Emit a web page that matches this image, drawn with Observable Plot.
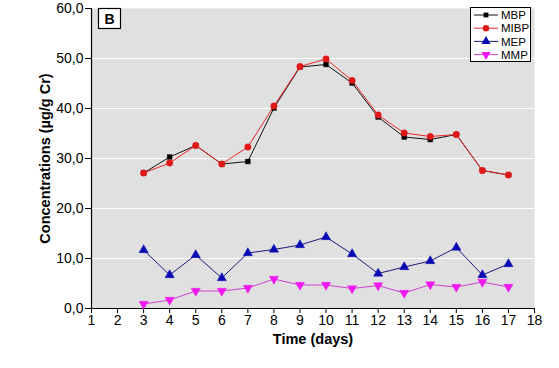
<!DOCTYPE html>
<html>
<head>
<meta charset="utf-8">
<script src="https://cdn.jsdelivr.net/npm/d3@7"></script>
<script src="https://cdn.jsdelivr.net/npm/@observablehq/plot@0.6"></script>
<style>
  body { margin: 0; background: #fff; }
  svg { font-family: "Liberation Sans", Arial, sans-serif; }
</style>
</head>
<body>
<div id="chart"></div>
<script>
const days = [3, 4, 5, 6, 7, 8, 9, 10, 11, 12, 13, 14, 15, 16, 17];
const mbp  = [27.1, 30.3, 32.6, 28.9, 29.4, 40.1, 48.3, 48.8, 45.1, 38.3, 34.3, 33.8, 34.8, 27.6, 26.7];
const mibp = [27.1, 29.1, 32.6, 28.9, 32.3, 40.5, 48.4, 49.9, 45.6, 38.7, 35.1, 34.4, 34.8, 27.6, 26.7];
const mep  = [11.7, 6.7, 10.7, 6.1, 11.1, 11.8, 12.7, 14.3, 10.9, 7.0, 8.3, 9.5, 12.2, 6.7, 8.9];
const mmp  = [0.9, 1.7, 3.5, 3.5, 4.1, 5.9, 4.7, 4.7, 4.0, 4.6, 3.1, 4.8, 4.3, 5.3, 4.3];
const seriesNames = ["MBP", "MIBP", "MEP", "MMP"];
const xTicks = d3.range(1, 19);
const yTicks = [0, 10, 20, 30, 40, 50, 60];
const gridTicks = [10, 20, 30, 40, 50];
const panelLabel = "B";
const xLabel = "Time (days)";
const yLabel = "Concentrations (µg/g Cr)";

const symbolTriangleDown = {
  draw(context, size) {
    const y = -Math.sqrt(size / (Math.sqrt(3) * 3));
    context.moveTo(0, -y * 2);
    context.lineTo(-Math.sqrt(3) * y, y);
    context.lineTo(Math.sqrt(3) * y, y);
    context.closePath();
  }
};
const styles = {
  MBP:  {stroke: "#111111", fill: "#000000", symbol: d3.symbolSquare, r: 2.7},
  MIBP: {stroke: "#e8262a", fill: "#e01818", symbol: d3.symbolCircle, r: 3.2},
  MEP:  {stroke: "#1a1a7a", fill: "#0a0ab4", symbol: d3.symbolTriangle, r: 3.4},
  MMP:  {stroke: "#d040d0", fill: "#ee18ee", symbol: symbolTriangleDown, r: 3.4}
};
const valuesBySeries = {MBP: mbp, MIBP: mibp, MEP: mep, MMP: mmp};
const data = seriesNames.flatMap(s => days.map((d, i) => ({series: s, day: d, value: valuesBySeries[s][i]})));

const marks = [
  Plot.frame({fill: "#e0e0e0", stroke: null}),
  Plot.ruleY(gridTicks, {stroke: "#ffffff", strokeWidth: 1.2}),
  Plot.ruleX([1], {stroke: "#000", strokeWidth: 1.2}),
  Plot.ruleY([0], {stroke: "#000", strokeWidth: 1.2}),
  Plot.axisX(xTicks, {tickSize: 5, tickPadding: 2, fontSize: 14, fill: "#000", tickFormat: d => String(d), label: null}),
  Plot.axisY(yTicks, {tickSize: 6, tickPadding: 2, fontSize: 14, fill: "#000", tickFormat: d => d.toFixed(1).replace(".", ","), label: null}),
  Plot.text([xLabel], {frameAnchor: "bottom", lineAnchor: "middle", dy: 31, fontSize: 14.5, fontWeight: "bold", fill: "#000"}),
  Plot.text([yLabel], {frameAnchor: "left", textAnchor: "middle", lineAnchor: "middle", dx: -46, rotate: -90, fontSize: 14.5, fontWeight: "bold", fill: "#000"})
];
for (const s of seriesNames) {
  const st = styles[s];
  const sd = data.filter(d => d.series === s);
  marks.push(Plot.line(sd, {x: "day", y: "value", stroke: st.stroke, strokeWidth: 1}));
  marks.push(Plot.dot(sd, {x: "day", y: "value", symbol: st.symbol, fill: st.fill, stroke: st.fill, strokeWidth: 0.5, r: st.r}));
}

const chart = Plot.plot({
  width: 559,
  height: 368,
  marginLeft: 91,
  marginRight: 25,
  marginTop: 8,
  marginBottom: 60,
  x: {domain: [1, 18], axis: null},
  y: {domain: [0, 60], axis: null},
  style: {background: "#fff", overflow: "visible"},
  marks
});
document.getElementById("chart").appendChild(chart);

// panel label box and legend
const svg = d3.select(chart);
const pg = svg.append("g");
pg.append("rect").attr("x", 98.5).attr("y", 8.5).attr("width", 22).attr("height", 20)
  .attr("fill", "#fff").attr("stroke", "#000").attr("stroke-width", 1.2);
pg.append("text").attr("x", 109.5).attr("y", 23.5).attr("text-anchor", "middle")
  .attr("font-size", 14).attr("font-weight", "bold").text(panelLabel);

const lg = svg.append("g");
lg.append("rect").attr("x", 470.5).attr("y", 7.5).attr("width", 60).attr("height", 54)
  .attr("fill", "#fff").attr("stroke", "#000").attr("stroke-width", 1);
seriesNames.forEach((s, i) => {
  const st = styles[s];
  const y = 15 + i * 13.2;
  lg.append("line").attr("x1", 474).attr("x2", 498).attr("y1", y).attr("y2", y)
    .attr("stroke", st.stroke).attr("stroke-width", 1);
  lg.append("path").attr("transform", `translate(486,${y})`)
    .attr("d", d3.symbol(st.symbol, Math.PI * st.r * st.r)())
    .attr("fill", st.fill);
  lg.append("text").attr("x", 501).attr("y", y).attr("dy", "0.36em")
    .attr("text-anchor", "start")
    .attr("font-size", 11.5).attr("fill", "#000").text(s);
});
</script>
</body>
</html>
